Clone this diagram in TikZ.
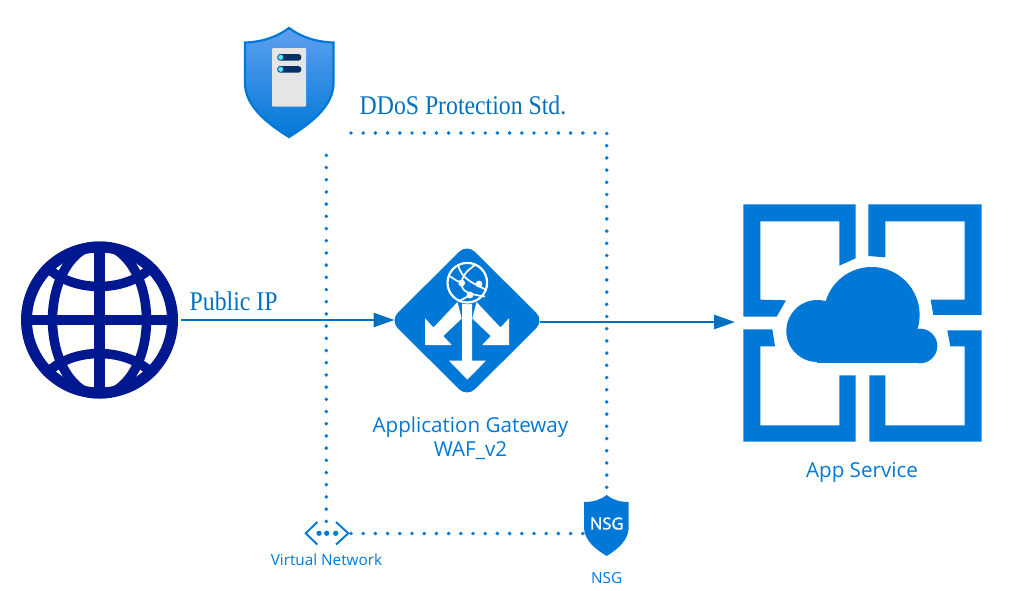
\documentclass[tikz,border=0pt]{standalone}
\usepackage{fontspec}
\setmainfont{Open Sans}
\newfontfamily\condserif[FakeStretch=0.88]{Liberation Serif}
\newfontfamily\nsgfont[FakeBold=1.6]{Open Sans}
\usetikzlibrary{arrows.meta}
\definecolor{azure}{HTML}{0078D7}
\definecolor{linkblue}{HTML}{0070C0}
\definecolor{navyglobe}{HTML}{00188F}
\definecolor{shieldtop}{HTML}{5EA0EF}
\definecolor{pillnavy}{HTML}{003067}
\definecolor{pilldot}{HTML}{50E6FF}
\tikzset{
  x=1pt,y=-1pt,
  anchorbox/.style={inner sep=0pt,outer sep=0pt,minimum width=#1,minimum height=#1},
  dotline/.style={azure,line width=3.9pt,line cap=round,dash pattern=on 0pt off 12.2pt},
  flow/.style={linkblue,line width=2.6pt,-{Triangle[length=21pt,width=14pt]}},
  lab/.style={azure,inner sep=0pt,font=\fontsize{20.6}{24}\selectfont,align=center},
  smalllab/.style={azure,inner sep=0pt,font=\fontsize{15.3}{17}\selectfont},
  seriflab/.style={linkblue,inner sep=0pt,anchor=west,font=\condserif\fontsize{27}{30}\selectfont},
  globeline/.style={navyglobe,line width=9.5pt},
  whitearrow/.style={fill=white,draw=none},
}
\begin{document}
\begin{tikzpicture}
\useasboundingbox (0,0) rectangle (1019,590);

% anchor nodes for icons
\node[anchorbox=158pt] (globe) at (99.5,320) {};
\node[anchorbox=145pt] (gw) at (467,320.5) {};
\node[anchorbox=238pt] (app) at (862.5,322) {};
\node[anchorbox=44pt] (vnet) at (327,533.5) {};
\node[anchorbox=44pt,minimum height=62pt] (nsg) at (606.7,525.5) {};
\coordinate (ddosfoot) at (326.3,145);
\coordinate (ddosstart) at (351,133);

% dotted network lines
\draw[dotline] (326.3,533.5) -- (ddosfoot);
\draw[dotline] (ddosstart) -| (nsg.north);
\draw[dotline] (351,533.5) -- (nsg.west |- vnet.center);

% arrows
\draw[flow,shorten <=2.5pt] (globe.east) -- (gw.west |- globe.east);
\draw[flow,shorten >=8.5pt] (gw.east |- app.west) -- (app.west);

% globe
\begin{scope}
  \clip (99.5,320) circle (78.5);
  \draw[globeline] (99.5,320) ellipse [x radius=47,y radius=75];
  \draw[globeline] (44,264) .. controls (70,294) and (128,294) .. (155,264);
  \draw[globeline] (44,376) .. controls (70,346) and (128,346) .. (155,376);
\end{scope}
\draw[navyglobe,line width=11pt] (99.5,320) circle (73);
\draw[navyglobe,line width=10.5pt] (99.5,245) -- (99.5,395);
\draw[navyglobe,line width=10.5pt] (25,320) -- (174,320);

% gateway
\fill[azure,rounded corners=11pt] (467,244) -- (544,320.5) -- (467,397) -- (390,320.5) -- cycle;
\fill[whitearrow] (462,300) -- (472,300) -- (472,360.7) -- (486,360.7) -- (467.3,379.5) -- (449,360.7) -- (462,360.7) -- cycle;
\fill[whitearrow] (457.5,302) -- (461.7,318.5) -- (443.3,336) -- (451.7,345) -- (425,345) -- (425,318.3) -- (433.5,327.5) -- cycle;
\fill[whitearrow] (476.5,302) -- (472.3,318.5) -- (490.7,336) -- (482.3,345) -- (509,345) -- (509,318.3) -- (500.5,327.5) -- cycle;
\fill[azure] (467.3,282.7) circle (21.5);
\draw[white,line width=2.2pt] (467.3,282.7) circle (19.8);
\draw[white,line width=1.7pt] (458.3,266) .. controls (462,278) and (470,282) .. (486.5,290);
\draw[white,line width=1.7pt] (449.5,276) .. controls (456,280) and (458,282) .. (461.7,283) .. controls (461,290) and (466,294) .. (485,296.5);
\draw[white,line width=1.7pt] (461.7,283) .. controls (462,275) and (468,270) .. (475,265);
\draw[white,line width=1.7pt] (470,295) .. controls (465,298) and (462,300) .. (458,301);
\fill[white] (479,284) circle (3.4) (470,295) circle (3.4) (461.7,283) circle (3.4);

% app service
\fill[azure,x=0.3333pt,y=-0.3333pt,shift={(730pt,-195pt)}]
  (40,28) -- (377,28) -- (377,190) -- (328,212) -- (328,79) -- (91,79) -- (91,314) -- (168,316) -- (140,365) -- (40,365) -- cycle
  (415,28) -- (755,28) -- (755,360) -- (610,360) -- (602,314) -- (704,314) -- (704,79) -- (466,79) -- (466,187) -- (415,183) -- cycle
  (40,403) -- (127,403) -- (135,454) -- (91,454) -- (91,691) -- (328,691) -- (328,541) -- (377,541) -- (377,740) -- (40,740) -- cycle
  (652,406) -- (755,406) -- (755,740) -- (418,740) -- (418,541) -- (466,541) -- (466,691) -- (704,691) -- (704,454) -- (661,454) -- cycle
  (262,408) circle (93)
  (425,360) circle (144)
  (570,453) circle (52);
\fill[azure] (817.3,362.5) rectangle (920,330);

% DDoS shield
\path[draw=azure,line width=2.2pt,top color=shieldtop,bottom color=azure,shading angle=0]
  (289,28) .. controls (277,37) and (262,42) .. (245,42.5) -- (245,83)
  .. controls (245,105) and (265,122) .. (289,137) .. controls (313,122) and (333.5,105) .. (333.5,83)
  -- (333.5,42.5) .. controls (316,42) and (301,37) .. (289,28) -- cycle;
\fill[black!10,rounded corners=1pt] (272,48) rectangle (306,106.7);
\fill[pillnavy,rounded corners=3pt] (277.3,54) rectangle (301.3,60.7);
\fill[pillnavy,rounded corners=3pt] (277.3,66) rectangle (301.3,72.7);
\fill[pilldot] (280.7,57.3) circle (2.6) (280.7,69.3) circle (2.6);

% NSG shield
\fill[azure] (606.7,495) .. controls (600,500) and (593,502) .. (584,502) -- (584,527)
  .. controls (584,540) and (595,549) .. (606.7,556) .. controls (618,549) and (628.7,540) .. (628.7,527)
  -- (628.7,502) .. controls (620,502) and (613,500) .. (606.7,495) -- cycle;
\node[white,inner sep=0pt,font=\nsgfont\fontsize{16.5}{18}\selectfont] (nsgtext) at (606.7,523.5) {NSG};

% virtual network icon
\draw[azure,line width=1.9pt] (317.3,522) -- (305.7,533.3) -- (317.3,544.5);
\draw[azure,line width=1.9pt] (336,522) -- (348.3,533.3) -- (336,544.5);
\fill[azure] (319,533.3) circle (2.6) (326.7,533.3) circle (2.6) (335.7,533.3) circle (2.6);

% labels
\node[seriflab] (ddoslabel) at (359.5,105) {DDoS Protection Std.};
\node[seriflab] (iplabel) at (189.5,301) {Public IP};
\node[lab] (gwlabel) at (470.5,438.5) {Application Gateway\\WAF\_v2};
\node[lab] (applabel) at (862,472.5) {App Service};
\node[smalllab] (vnetlabel) at (326.5,560) {Virtual Network};
\node[smalllab] (nsglabel) at (606.7,578) {NSG};
\end{tikzpicture}
\end{document}
